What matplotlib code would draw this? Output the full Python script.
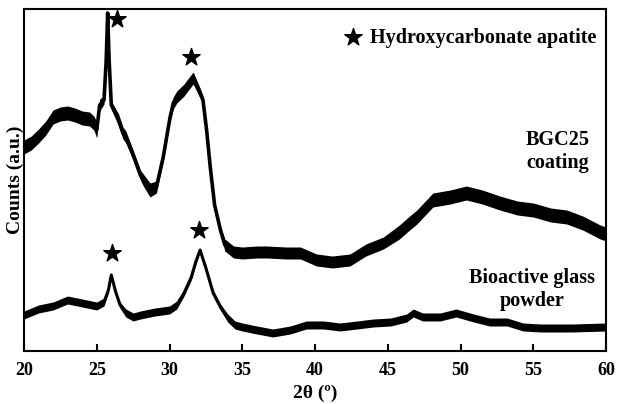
import matplotlib
matplotlib.use('Agg')
import matplotlib.pyplot as plt
import numpy as np

plt.rcParams['font.family'] = ['Liberation Serif', 'DejaVu Serif']
plt.rcParams['font.weight'] = 'bold'

# BGC25 coating (arbitrary counts, measured downward from the top of the frame)
coat_tt = [20, 20.5, 21, 21.5, 22, 22.5, 23, 23.5, 24, 24.5, 24.8, 25.0, 25.2, 25.5, 25.65, 25.75,
           25.85, 26.0, 26.5, 26.8, 27.0, 27.5, 28.0, 28.2, 28.66, 29.1, 29.57, 30.03, 30.26, 30.5,
           31.0, 31.2, 31.63, 32.1, 32.3, 32.55, 32.8, 33.1, 33.5, 33.8, 34.4, 35, 36, 36.7, 38,
           39, 40.1, 41.2, 42.4, 43.5, 44.7, 45.8, 46.5, 47, 48.1, 49.3, 50.4, 51.5, 52.7, 53.9,
           55, 56.2, 57.3, 58.4, 59.6, 60]
coat_px = [147, 143, 136, 128, 117, 114, 113, 115, 118, 119, 123, 130, 105, 100, 60, 13,
           60, 105, 120, 133, 137, 155, 175, 180, 190, 187, 157, 118, 103, 97,
           90, 86, 78, 93, 100, 130, 167, 205, 230, 245, 252, 253, 252, 252, 253,
           253, 260, 262, 260, 250, 243, 232, 223, 217, 200, 197, 193, 197, 203, 208,
           210, 215, 217, 223, 232, 234]
# half thickness of the noisy trace
coat_hw = [7, 7, 7, 7, 7, 7, 7, 7, 7, 7,
           7, 8, 6, 4, 2, 1, 2, 4, 6, 6,
           6, 5, 5, 6, 7, 6, 4, 4, 6, 6,
           6, 6, 6, 5, 4, 3, 3, 3, 4, 6,
           6, 6, 6, 6, 6, 6, 6, 6, 6, 6,
           6, 7, 7, 7, 7, 7, 7, 7, 7, 7,
           7, 7, 7, 7, 7, 7]

# Bioactive glass powder
powd_tt = [20, 21, 22, 23, 24, 25, 25.5, 25.8, 26.0, 26.3, 26.6, 27, 27.5, 28, 29, 30, 30.5,
           31, 31.5, 31.8, 32.1, 32.5, 33, 33.5, 34, 34.5, 35, 36, 37.1, 38.3, 39.4, 40.6, 41.7,
           42.9, 44, 45.2, 46.3, 46.75, 47.4, 48.6, 49.7, 50.9, 52, 53.2, 54.3, 55.5, 57.7, 60]
powd_px = [315, 309, 306, 300, 303, 306, 302, 290, 275, 292, 305, 313, 317, 315, 312, 310, 305,
           293, 277, 262, 250, 268, 293, 307, 318, 325, 327, 330, 333, 330, 325, 325, 327,
           325, 323, 322, 318, 313, 317, 317, 313, 318, 322, 322, 327, 328, 328, 327]
powd_hw = [4, 4, 4, 4, 4, 4, 4,
           3, 2, 3, 3,
           4, 4, 4, 4, 4, 4,
           3, 3, 3, 2, 3, 3, 3,
           4, 4, 4, 4, 4, 4, 4, 4, 4, 4, 4, 4, 4, 4, 4, 4, 4, 4, 4, 4, 4, 4, 4, 4]

# star markers (peak labels)
star_tt = [26.4, 31.5, 26.03, 32.05]
star_px = [19, 57, 253, 230]

coat = 351 - np.array(coat_px)
powd = 351 - np.array(powd_px)
stars = 351 - np.array(star_px)

fig = plt.figure(figsize=(6.17, 4.04), dpi=100)
ax = fig.add_axes([0.0389, 0.1312, 0.9433, 0.8465])

ax.fill_between(coat_tt, coat - np.array(coat_hw), coat + np.array(coat_hw), color='black', lw=0)
ax.plot(coat_tt, coat, color='black', lw=2.6)
ax.fill_between(powd_tt, powd - np.array(powd_hw), powd + np.array(powd_hw), color='black', lw=0)
ax.plot(powd_tt, powd, color='black', lw=2.2)
st = ax.scatter(star_tt, stars, marker='*', s=170, color='black', zorder=3)

ax.text(56.7, 200, 'BGC25\ncoating', ha='center', va='center', fontsize=14.5, fontweight='bold',
        linespacing=1.2)
ax.text(54.9, 61, 'Bioactive glass\npowder', ha='center', va='center', fontsize=14.5,
        fontweight='bold', linespacing=1.2)

leg = ax.legend([st], ['Hydroxycarbonate apatite'], loc='upper right', frameon=False,
                prop={'size': 14.5, 'weight': 'bold'}, handletextpad=0.3, handlelength=1.0,
                borderaxespad=0.1, bbox_to_anchor=(1.0, 0.975), scatterpoints=1)

ax.set_xlim(20, 60)
ax.set_ylim(0, 342)
ax.set_xticks(np.arange(20, 61, 5))
ax.set_yticks([])
ax.tick_params(axis='x', direction='in', length=5, width=1.5, labelsize=13, pad=8)
for lbl in ax.get_xticklabels():
    lbl.set_fontweight('bold')
for s in ax.spines.values():
    s.set_linewidth(1.5)

ax.set_xlabel('2θ (º)', fontsize=14, fontweight='bold', labelpad=4)
ax.set_ylabel('Counts (a.u.)', fontsize=14, fontweight='bold', labelpad=0)

plt.savefig('out.png', dpi=100)
